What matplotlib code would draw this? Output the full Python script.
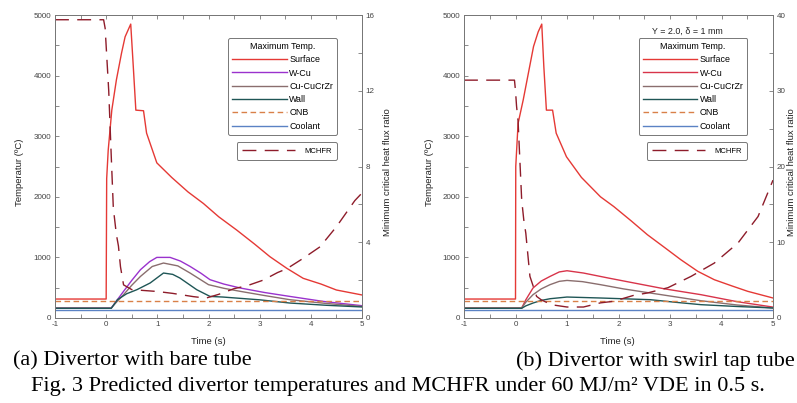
import matplotlib
matplotlib.use("Agg")
import matplotlib.pyplot as plt
from matplotlib.ticker import MultipleLocator

plt.rcParams['font.family'] = ['Liberation Sans', 'DejaVu Sans']
plt.rcParams['axes.unicode_minus'] = False

# ---- panel (a): bare tube ----
t_surf_a = [-1, 0, 0.01, 0.04, 0.11, 0.2, 0.3, 0.37, 0.48, 0.53, 0.58, 0.73, 0.79, 0.99, 1.28,
            1.6, 1.9, 2.2, 2.55, 2.9, 3.2, 3.53, 3.85, 4.2, 4.5, 5.0]
T_surf_a = [313, 313, 2300, 2770, 3430, 3930, 4370, 4640, 4850, 4150, 3430, 3420, 3050, 2560, 2320,
            2080, 1890, 1670, 1452, 1220, 1012, 820, 655, 560, 462, 380]
t_wcu_a = [-1, 0.1, 0.2, 0.34, 0.5, 0.67, 0.85, 0.99, 1.25, 1.45, 1.64, 1.85, 2.03, 2.3, 2.62, 3.1, 3.59, 4.24, 5.0]
T_wcu_a = [165, 165, 280, 440, 620, 797, 930, 1000, 1000, 940, 851, 740, 632, 560, 495, 420, 356, 274, 203]
t_cu_a = [-1, 0.1, 0.2, 0.34, 0.5, 0.67, 0.9, 1.12, 1.4, 1.64, 2.0, 2.3, 2.62, 3.1, 3.59, 4.3, 5.0]
T_cu_a = [165, 165, 260, 385, 540, 686, 850, 907, 860, 742, 550, 490, 440, 370, 302, 240, 191]
t_wall_a = [-1, 0.1, 0.22, 0.4, 0.6, 0.86, 1.12, 1.3, 1.44, 1.77, 2.03, 2.28, 3.0, 3.59, 4.3, 5.0]
T_wall_a = [160, 160, 302, 400, 467, 578, 742, 720, 660, 467, 356, 346, 300, 247, 210, 182]
t_onb_a = [-1, 5]
T_onb_a = [274, 274]
t_cool_a = [-1, 5]
T_cool_a = [137, 137]
t_mchfr_a = [-1, -0.05, -0.02, 0.05, 0.1, 0.14, 0.2, 0.24, 0.28, 0.34, 0.5, 1.0, 1.3, 1.7, 1.95,
             2.2, 2.5, 2.75, 3.07, 3.35, 3.53, 3.85, 4.18, 4.5, 4.86, 5.0]
R_mchfr_a = [15.75, 15.75, 15.3, 12.0, 8.5, 5.8, 4.4, 3.8, 2.7, 1.75, 1.5, 1.4, 1.3, 1.13, 1.05,
             1.25, 1.55, 1.7, 2.0, 2.4, 2.6, 3.15, 3.76, 4.82, 6.2, 6.6]

# ---- panel (b): swirl tape tube ----
t_surf_b = [-1, 0, 0.005, 0.05, 0.15, 0.25, 0.35, 0.44, 0.51, 0.55, 0.6, 0.72, 0.79, 0.99, 1.28,
            1.65, 1.91, 2.25, 2.56, 2.9, 3.21, 3.54, 3.86, 4.2, 4.51, 5.0]
T_surf_b = [313, 313, 2500, 3210, 3600, 4040, 4480, 4720, 4850, 4150, 3430, 3430, 3050, 2660, 2320,
            2000, 1838, 1600, 1375, 1160, 962, 770, 632, 530, 440, 330]
t_wcu_b = [-1, 0.12, 0.2, 0.34, 0.5, 0.67, 0.85, 1.0, 1.32, 1.8, 2.3, 2.9, 3.6, 4.3, 5.0]
T_wcu_b = [165, 165, 300, 495, 610, 686, 760, 780, 742, 660, 578, 480, 385, 270, 180]
t_cu_b = [-1, 0.12, 0.2, 0.34, 0.5, 0.67, 0.85, 1.0, 1.3, 1.65, 2.1, 2.62, 3.1, 3.6, 4.3, 5.0]
T_cu_b = [165, 165, 260, 385, 480, 550, 605, 620, 600, 550, 480, 412, 350, 285, 215, 165]
t_wall_b = [-1, 0.12, 0.2, 0.34, 0.5, 0.67, 1.0, 1.65, 2.62, 3.1, 3.6, 4.3, 5.0]
T_wall_b = [160, 160, 200, 247, 290, 318, 346, 330, 302, 260, 220, 190, 165]
t_onb_b = [-1, 5]
T_onb_b = [280, 280]
t_cool_b = [-1, 5]
T_cool_b = [137, 137]
t_mchfr_b = [-1, -0.02, 0.0, 0.02, 0.05, 0.12, 0.16, 0.2, 0.28, 0.41, 0.5, 0.7, 1.0, 1.32, 1.65,
             1.9, 2.3, 2.56, 2.96, 3.41, 3.86, 4.32, 4.71, 5.0]
R_mchfr_b = [31.4, 31.4, 30, 28, 26, 15.6, 13, 11.2, 5.5, 2.85, 2.4, 1.75, 1.45, 1.45, 2.0,
             2.2, 3.0, 3.3, 4.0, 5.5, 7.25, 9.9, 13.4, 18.2]

legend_labels = ['Surface', 'W-Cu', 'Cu-CuCrZr', 'Wall', 'ONB', 'Coolant']

W, H = 797, 403
fig = plt.figure(figsize=(W / 100, H / 100), dpi=100)

grey = '#777777'
tickc = '#444444'


def px(x0, y0, x1, y1):
    # pixel box (top-left origin) -> figure fraction rect
    return [x0 / W, 1 - y1 / H, (x1 - x0) / W, (y1 - y0) / H]


def panel(rect, data, rmax, rmajor, rminor, wcu_col, note=None):
    ax = fig.add_axes(rect)
    ax2 = ax.twinx()
    (ts, Ts), (tw, Tw), (tc, Tc), (tl, Tl), (to, To), (tk, Tk), (tm, Rm) = data
    l1, = ax.plot(ts, Ts, color='#e53935', lw=1.0)
    l2, = ax.plot(tw, Tw, color=wcu_col, lw=1.0)
    l3, = ax.plot(tc, Tc, color='#8a6e6e', lw=1.0)
    l4, = ax.plot(tl, Tl, color='#1f5656', lw=1.0)
    l5, = ax.plot(to, To, color='#d98048', lw=1.0, dashes=(4, 2.5))
    l6, = ax.plot(tk, Tk, color='#5b82c4', lw=1.0)
    m, = ax2.plot(tm, Rm, color='#8e1c2a', lw=1.0, dashes=(10, 6))

    ax.set_xlim(-1, 5)
    ax.set_ylim(0, 5000)
    ax2.set_ylim(0, rmax)
    ax.xaxis.set_major_locator(MultipleLocator(1))
    ax.xaxis.set_minor_locator(MultipleLocator(0.5))
    ax.yaxis.set_major_locator(MultipleLocator(1000))
    ax.yaxis.set_minor_locator(MultipleLocator(500))
    ax2.yaxis.set_major_locator(MultipleLocator(rmajor))
    ax2.yaxis.set_minor_locator(MultipleLocator(rminor))
    ax.tick_params(which='both', direction='in', top=True, right=False, length=3,
                   width=0.6, color=grey, labelsize=5.8, labelcolor=tickc, pad=2.5)
    ax2.tick_params(which='both', direction='in', length=3, width=0.6, color=grey,
                    labelsize=5.8, labelcolor=tickc, pad=2.5)
    for a in (ax, ax2):
        for s in a.spines.values():
            s.set_color(grey)
            s.set_linewidth(0.7)

    leg = ax.legend([l1, l2, l3, l4, l5, l6], legend_labels, title='Maximum Temp.',
                    loc='upper left', bbox_to_anchor=(0.565, 0.924), borderaxespad=0,
                    fontsize=6.4, title_fontsize=6.4, handlelength=6.1, handletextpad=0.3,
                    labelspacing=0.48, borderpad=0.45, fancybox=True, framealpha=1,
                    edgecolor=grey)
    leg.get_frame().set_linewidth(0.7)
    leg2 = ax2.legend([m], ['MCHFR'], loc='upper left', bbox_to_anchor=(0.592, 0.58),
                      borderaxespad=0, fontsize=5.5, handlelength=7.0, handletextpad=1.2,
                      borderpad=0.65, fancybox=True, framealpha=1, edgecolor=grey)
    leg2.get_frame().set_linewidth(0.7)
    if note:
        ax.text(0.722, 0.947, note, transform=ax.transAxes, ha='center', va='center',
                fontsize=6.4, color='#222222')
    return ax, ax2


panel(px(55, 15, 362, 318),
      [(t_surf_a, T_surf_a), (t_wcu_a, T_wcu_a), (t_cu_a, T_cu_a), (t_wall_a, T_wall_a),
       (t_onb_a, T_onb_a), (t_cool_a, T_cool_a), (t_mchfr_a, R_mchfr_a)],
      16, 4, 2, '#9a32cd')
panel(px(464, 15, 773, 318),
      [(t_surf_b, T_surf_b), (t_wcu_b, T_wcu_b), (t_cu_b, T_cu_b), (t_wall_b, T_wall_b),
       (t_onb_b, T_onb_b), (t_cool_b, T_cool_b), (t_mchfr_b, R_mchfr_b)],
      40, 10, 5, '#d8344a', note='Y = 2.0, \u03b4 = 1 mm')

# axis titles
lab = dict(fontsize=6.8, color='#222222', ha='center', va='center')
fig.text(20 / W, 1 - 172 / H, 'Temperatur (\u00baC)', rotation=90, **lab)
fig.text(430 / W, 1 - 172 / H, 'Temperatur (\u00baC)', rotation=90, **lab)
fig.text(208 / W, 1 - 341 / H, 'Time (s)', **lab)
fig.text(617 / W, 1 - 341 / H, 'Time (s)', **lab)
fig.text(388 / W, 1 - 172 / H, 'Minimum critical heat flux ratio', rotation=90, **lab)
fig.text(792 / W, 1 - 172 / H, 'Minimum critical heat flux ratio', rotation=90, **lab)

# captions
cap = dict(fontsize=16, color='black', family='Liberation Serif', va='center')
fig.text(13 / W, 1 - 361 / H, '(a) Divertor with bare tube', ha='left', **cap)
fig.text(795 / W, 1 - 361 / H, '(b) Divertor with swirl tap tube', ha='right', **cap)
fig.text(398 / W, 1 - 386 / H, 'Fig. 3 Predicted divertor temperatures and MCHFR under 60 MJ/m\u00b2 VDE in 0.5 s.',
         ha='center', **cap)

fig.savefig('out.png', dpi=100)
